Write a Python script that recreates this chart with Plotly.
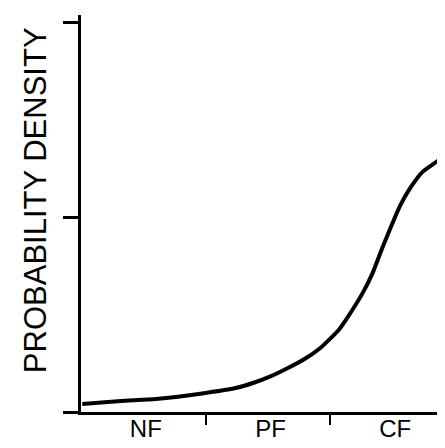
import plotly.graph_objects as go

categories = ["NF", "PF", "CF"]
category_centers = [0.52, 1.52, 2.52]
boundary_ticks = [1, 2]
y_ticks = [0, 1, 2]

curve_x = [0.01, 0.32, 0.6, 1.0, 1.24, 1.38, 1.52, 1.66, 1.80, 1.92, 2.06, 2.14, 2.26, 2.34, 2.42, 2.50, 2.56, 2.64, 2.74, 2.90, 2.93]
curve_y = [0.041, 0.057, 0.067, 0.098, 0.123, 0.149, 0.183, 0.226, 0.275, 0.329, 0.416, 0.488, 0.612, 0.715, 0.848, 0.972, 1.060, 1.150, 1.234, 1.306, 1.316]

FONT = "Arial, Liberation Sans, Helvetica, sans-serif"

fig = go.Figure()
fig.add_trace(go.Scatter(x=curve_x, y=curve_y, mode="lines",
                         line=dict(color="black", width=4, shape="spline", smoothing=0.5),
                         hoverinfo="skip", showlegend=False))
fig.add_trace(go.Scatter(x=category_centers, y=[None]*3, xaxis="x2", mode="markers",
                         showlegend=False, hoverinfo="skip"))

fig.update_layout(
    width=437, height=440,
    margin=dict(l=73, r=0, t=7, b=36, autoexpand=False),
    paper_bgcolor="white", plot_bgcolor="white",
    showlegend=False,
    xaxis=dict(range=[0, 2.92], tickvals=boundary_ticks, showticklabels=False,
               ticks="outside", ticklen=10, tickwidth=2, tickcolor="black",
               showline=True, linecolor="black", linewidth=3,
               showgrid=False, zeroline=False, fixedrange=True),
    xaxis2=dict(range=[0, 2.92], overlaying="x", side="bottom",
                tickvals=category_centers, ticktext=categories, ticks="",
                tickfont=dict(family=FONT, size=24, color="black"),
                showline=False, showgrid=False, zeroline=False, fixedrange=True),
    yaxis=dict(range=[0, 2.04], tickvals=y_ticks, showticklabels=False,
               ticks="outside", ticklen=15, tickwidth=3, tickcolor="black",
               showline=True, linecolor="black", linewidth=3,
               showgrid=False, zeroline=False, fixedrange=True),
    annotations=[dict(text="PROBABILITY DENSITY", xref="paper", yref="paper",
                      x=-0.126, y=0.534, textangle=-90, showarrow=False,
                      xanchor="center", yanchor="middle",
                      font=dict(family=FONT, size=31, color="black"))],
)

fig.write_html("out.html")
